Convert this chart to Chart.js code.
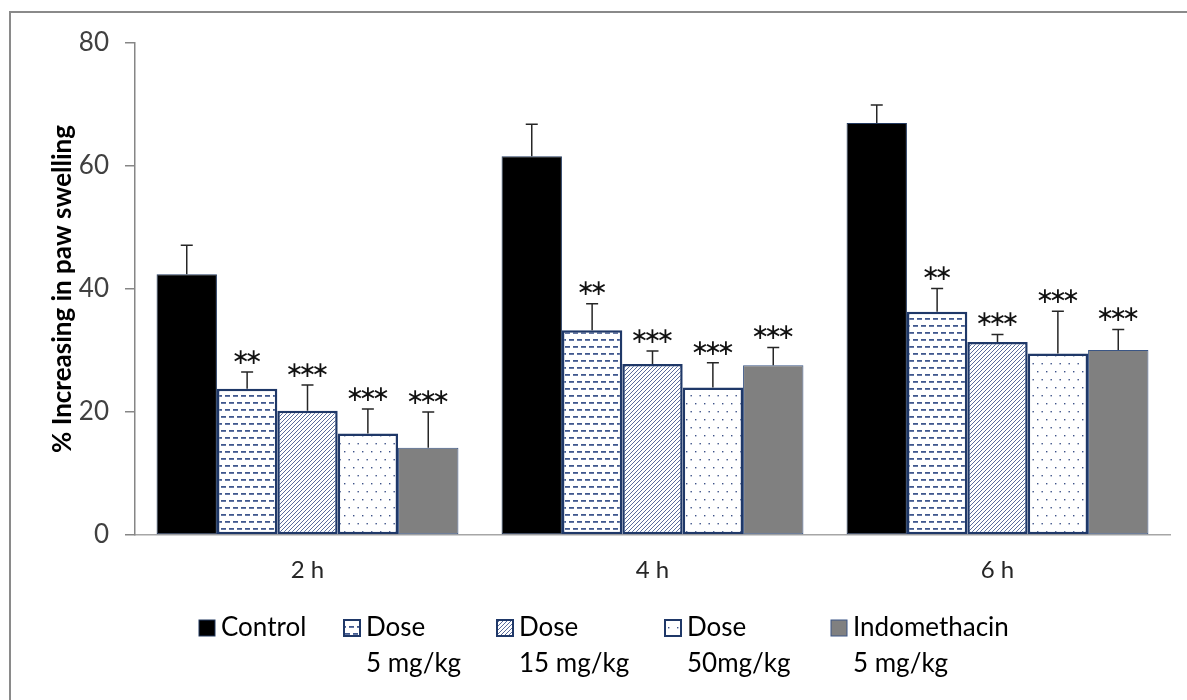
<!DOCTYPE html>
<html>
<head>
<meta charset="utf-8">
<script src="https://cdn.jsdelivr.net/npm/chart.js@4.4.1/dist/chart.umd.min.js"></script>
<style>
  html, body { margin: 0; padding: 0; background: #fff; overflow: hidden; }
  #wrap { position: relative; width: 1187px; height: 700px; }
</style>
</head>
<body>
<div id="wrap"><canvas id="c" width="1187" height="700"></canvas></div>
<script>
// Paw swelling (%) by time point, mean with upward SEM bar
const categories = ['2 h', '4 h', '6 h'];
const yTicks = [0, 20, 40, 60, 80];

const controlMean = [42.4, 61.6, 67.0];
const controlErr  = [4.7, 5.2, 2.9];
const dose5Mean   = [23.8, 33.3, 36.3];
const dose5Err    = [2.7, 4.3, 3.8];
const dose15Mean  = [20.2, 27.8, 31.4];
const dose15Err   = [4.2, 2.1, 1.2];
const dose50Mean  = [16.5, 24.0, 29.5];
const dose50Err   = [4.0, 4.0, 6.9];
const indoMean    = [14.2, 27.6, 30.1];
const indoErr     = [5.8, 2.9, 3.3];

// significance markers versus control
const controlSig = ['', '', ''];
const dose5Sig   = ['**', '**', '**'];
const dose15Sig  = ['***', '***', '***'];
const dose50Sig  = ['***', '***', '***'];
const indoSig    = ['***', '***', '***'];

const seriesLabels = [
  ['Control'],
  ['Dose', '5 mg/kg'],
  ['Dose', '15 mg/kg'],
  ['Dose', '50mg/kg'],
  ['Indomethacin', '5 mg/kg']
];

const NAVY = '#1f3868';

// ---- fill patterns ----
function makeTile(w, h, draw) {
  const c = document.createElement('canvas');
  c.width = w; c.height = h;
  const g = c.getContext('2d');
  g.fillStyle = '#fff';
  g.fillRect(0, 0, w, h);
  draw(g);
  return document.getElementById('c').getContext('2d').createPattern(c, 'repeat');
}
const dashPattern = makeTile(8, 14, g => {
  g.fillStyle = '#40588e';
  g.fillRect(1, 3, 5, 1.8);
  g.fillRect(5, 10, 5, 1.8);
  g.fillRect(-3, 10, 5, 1.8);
});
const hatchPattern = makeTile(4, 4, g => {
  g.strokeStyle = '#5a6c9c';
  g.lineWidth = 1;
  g.beginPath();
  g.moveTo(-1, 5); g.lineTo(5, -1);
  g.moveTo(-1, 1); g.lineTo(1, -1);
  g.moveTo(3, 5); g.lineTo(5, 3);
  g.stroke();
});
const dotPattern = makeTile(9, 16, g => {
  g.fillStyle = '#3d5288';
  g.fillRect(2, 3, 1.4, 1.4);
  g.fillRect(6.5, 11, 1.4, 1.4);
});

const fills = ['#000000', dashPattern, hatchPattern, dotPattern, '#808080'];
const borders = [1, 2.5, 2.5, 2.5, 1];
const means = [controlMean, dose5Mean, dose15Mean, dose50Mean, indoMean];
const errs = [controlErr, dose5Err, dose15Err, dose50Err, indoErr];
const sigs = [controlSig, dose5Sig, dose15Sig, dose50Sig, indoSig];

const datasets = means.map((m, i) => ({
  label: seriesLabels[i].join(' '),
  data: m,
  errors: errs[i],
  marks: sigs[i],
  backgroundColor: fills[i],
  borderColor: i === 0 ? '#23395f' : (i === 4 ? '#3a5585' : NAVY),
  borderWidth: borders[i],
  borderSkipped: false,
  categoryPercentage: 0.875,
  barPercentage: 1
}));

// error bars + significance asterisks
const errorBarPlugin = {
  id: 'errorBars',
  afterDatasetsDraw(chart) {
    const ctx = chart.ctx;
    const y = chart.scales.y;
    ctx.save();
    chart.data.datasets.forEach((ds, i) => {
      const meta = chart.getDatasetMeta(i);
      meta.data.forEach((bar, j) => {
        const base = y.getPixelForValue(ds.data[j]);
        const top = y.getPixelForValue(ds.data[j] + ds.errors[j]);
        ctx.strokeStyle = '#262626';
        ctx.lineWidth = 1.5;
        ctx.beginPath();
        ctx.moveTo(bar.x, base);
        ctx.lineTo(bar.x, top);
        ctx.moveTo(bar.x - 6, top);
        ctx.lineTo(bar.x + 6, top);
        ctx.stroke();
        const mark = ds.marks[j];
        if (mark) {
          ctx.fillStyle = '#111';
          ctx.font = '22px "DejaVu Sans"';
          ctx.textAlign = 'center';
          ctx.textBaseline = 'middle';
          const n = mark.length, pitch = 13;
          for (let k = 0; k < n; k++) {
            ctx.fillText('\u2217', bar.x + (k - (n - 1) / 2) * pitch, top - 14);
          }
        }
      });
    });
    ctx.restore();
  }
};

// multi-line legend below the axis
const legendPlugin = {
  id: 'twoLineLegend',
  afterDraw(chart) {
    const ctx = chart.ctx;
    const boxX = [199, 344, 497, 665, 831];
    const row1 = 628, row2 = 664, box = 16;
    ctx.save();
    ctx.font = '26px Lato';
    ctx.textBaseline = 'middle';
    ctx.textAlign = 'left';
    chart.data.datasets.forEach((ds, i) => {
      const x = boxX[i];
      ctx.fillStyle = ds.backgroundColor;
      ctx.fillRect(x, row1 - box / 2, box, box);
      ctx.strokeStyle = ds.borderColor;
      ctx.lineWidth = i === 0 || i === 4 ? 1 : 2;
      ctx.strokeRect(x, row1 - box / 2, box, box);
      ctx.fillStyle = '#000';
      const lines = seriesLabels[i];
      ctx.fillText(lines[0], x + box + 6, row1);
      if (lines[1]) ctx.fillText(lines[1], x + box + 6, row2);
    });
    ctx.restore();
  }
};

// outer frame
const framePlugin = {
  id: 'frame',
  beforeDraw(chart) {
    const ctx = chart.ctx;
    ctx.save();
    ctx.fillStyle = '#fff';
    ctx.fillRect(0, 0, chart.width, chart.height);
    ctx.strokeStyle = '#8a8a8a';
    ctx.lineWidth = 2;
    ctx.strokeRect(10, 12, 1200, 720);
    ctx.restore();
  }
};

new Chart(document.getElementById('c'), {
  type: 'bar',
  data: { labels: categories, datasets },
  plugins: [framePlugin, errorBarPlugin, legendPlugin],
  options: {
    responsive: false,
    animation: false,
    layout: { padding: { top: 43, right: 17, bottom: 0, left: 0 } },
    plugins: { legend: { display: false }, tooltip: { enabled: false } },
    scales: {
      x: {
        grid: { display: false, drawTicks: false },
        border: { color: '#a6a6a6', width: 1.5 },
        ticks: { font: { family: 'Lato', size: 24 }, color: '#262626', padding: 21 },
        afterFit(s) { s.height = 165; }
      },
      y: {
        min: 0, max: 80,
        afterBuildTicks(s) { s.ticks = yTicks.map(v => ({ value: v })); },
        ticks: { font: { family: 'Lato', size: 26 }, color: '#404040', padding: 16 },
        grid: { drawOnChartArea: false, tickLength: 10, color: '#868686', lineWidth: 1.5 },
        border: { color: '#868686', width: 1.5 },
        title: {
          display: true,
          text: '% Increasing in paw swelling',
          font: { family: 'Lato', size: 26, weight: 'bold' },
          color: '#000',
          padding: { top: 47, bottom: 0 }
        },
        afterFit(s) { s.width = 135; }
      }
    }
  }
});
</script>
</body>
</html>
